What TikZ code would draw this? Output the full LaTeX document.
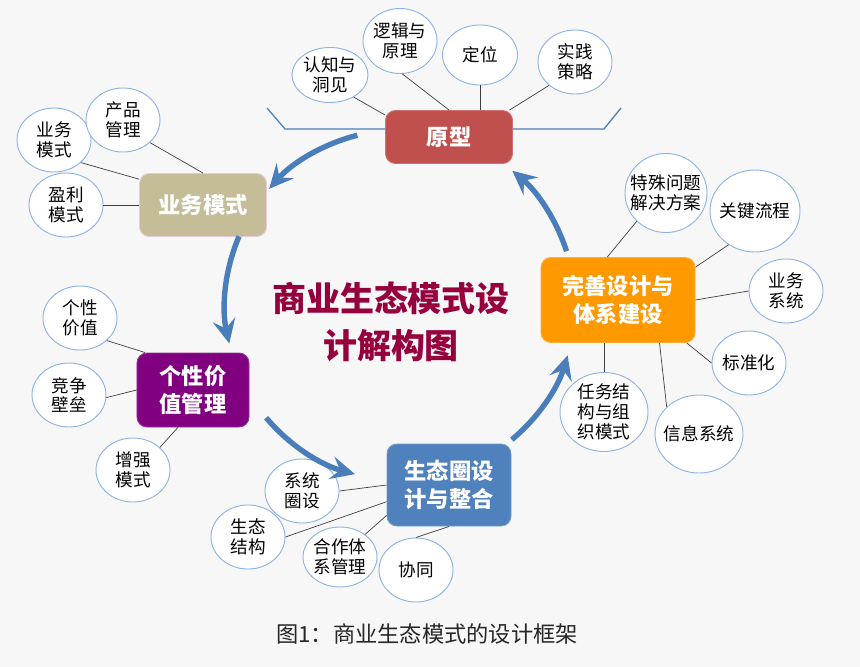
\documentclass[tikz,border=0pt]{standalone}
\usepackage{fontspec}
\setmainfont{Noto Sans CJK SC}
\usetikzlibrary{shapes.geometric, arrows.meta}
\definecolor{ProtoRed}{RGB}{192,80,77}
\definecolor{BizKhaki}{RGB}{196,189,151}
\definecolor{BizPink}{RGB}{228,200,220}
\definecolor{ValPurple}{RGB}{128,0,128}
\definecolor{EcoBlue}{RGB}{79,129,189}
\definecolor{SysOrange}{RGB}{255,153,0}
\definecolor{FlowBlue}{RGB}{74,126,187}
\definecolor{LeafBlue}{RGB}{141,180,226}
\definecolor{TitleRed}{RGB}{150,0,60}
\definecolor{PageGray}{RGB}{247,247,247}

\begin{document}
\begin{tikzpicture}[x=0.03cm, y=-0.03cm,
  hub/.style={draw, rounded corners=0.3cm, text=white, align=center,
              font=\fontsize{19}{24}\selectfont\bfseries, line width=0.8pt},
  leaf/.style={ellipse, draw=LeafBlue, fill=white, line width=0.8pt, inner sep=-12pt,
               minimum width=2.22cm, minimum height=1.92cm, align=center,
               font=\fontsize{15}{17}\selectfont},
  link/.style={draw=black!75, line width=0.6pt},
  flow/.style={draw=FlowBlue, line width=4.6pt,
               -{Stealth[length=0.72cm, width=0.68cm, inset=0.26cm]}},
  brace/.style={draw=FlowBlue, line width=1.1pt},
]
\fill[PageGray] (0,0) rectangle (860,667);
%% Hubs
\node[hub, fill=ProtoRed, draw=ProtoRed!80!white, minimum width=3.81cm, minimum height=1.59cm] (proto) at (449,137) {原型};
\node[hub, fill=BizKhaki, draw=BizPink, minimum width=3.81cm, minimum height=1.89cm] (bm) at (203,205) {业务模式};
\node[hub, fill=ValPurple, draw=ValPurple!80!white, minimum width=3.36cm, minimum height=2.22cm] (gx) at (193,390) {个性价\\值管理};
\node[hub, fill=EcoBlue, draw=EcoBlue!80!white, minimum width=3.72cm, minimum height=2.46cm] (stq) at (449,485) {生态圈设\\计与整合};
\node[hub, fill=SysOrange, draw=SysOrange!80!white, minimum width=4.62cm, minimum height=2.55cm] (ws) at (618,300) {完善设计与\\体系建设};
%% Title and caption
\node[font=\fontsize{29}{40}\selectfont\bfseries, text=TitleRed, align=center] (title) at (391,322) {商业生态模式设\\计解构图};
\node[font=\fontsize{19}{22}\selectfont, text=black!85] (caption) at (427,634) {图1：商业生态模式的设计框架};
%% Bracket round the prototype
\draw[brace] ([yshift=0.24cm]proto.west) -- ++(-100,0) -- ++(-18,-21);
\draw[brace] ([yshift=0.24cm]proto.east) -- ++(91,0) -- ++(17,-21);
%% Leaves of the prototype
\node[leaf, minimum width=2.28cm, minimum height=1.65cm] (rzdj) at (330,75) {认知与\\洞见};
\node[leaf, minimum height=1.95cm] (ljyl) at (400,41) {逻辑与\\原理};
\node[leaf, minimum width=2.25cm, minimum height=1.8cm] (dw) at (480,55) {定位};
\node[leaf] (sjcl) at (575,62) {实践\\策略};
\draw[link] (rzdj.-43) -- (proto.161);
\draw[link] (ljyl.-86) -- (proto.north);
\draw[link] (dw.south) -- (dw.south |- proto.north);
\draw[link] (sjcl.-138) -- (proto.24);
%% Leaves of the business model
\node[leaf] (ywms) at (54,140) {业务\\模式};
\node[leaf] (cpgl) at (123,120) {产品\\管理};
\node[leaf] (ylms) at (66,205) {盈利\\模式};
\draw[link] (cpgl.-40) -- (bm.north);
\draw[link] (ywms.-40) -- (bm.158);
\draw[link] (ylms.east) -- (bm.west);
%% Leaves of the value management
\node[leaf] (gxjz) at (80,318) {个性\\价值};
\node[leaf] (jzbl) at (69,395) {竞争\\壁垒};
\node[leaf] (zqms) at (133,470) {增强\\模式};
\draw[link] (gxjz.-40) -- (gx.142);
\draw[link] (jzbl.-4) -- (gx.west);
\draw[link] (zqms.40) -- (gx.-112);
%% Leaves of the ecosystem
\node[leaf] (xtqs) at (302,491) {系统\\圈设};
\node[leaf] (stjg) at (248,537) {生态\\结构};
\node[leaf, minimum height=1.8cm] (hztx) at (340,557) {合作体\\系管理};
\node[leaf] (xtong) at (416,570) {协同};
\draw[link] (xtqs.east) -- (stq.west);
\draw[link] (stjg.east) -- (stq.-165);
\draw[link] (hztx.42) -- (stq.-154);
\draw[link] (xtong.north) -- (stq.south);
%% Leaves of the system building
\node[leaf, minimum width=2.46cm, minimum height=2.37cm] (tswt) at (666,193) {特殊问题\\解决方案};
\node[leaf, minimum width=2.7cm, minimum height=2.46cm] (gjlc) at (755,211) {关键流程};
\node[leaf] (ywxt) at (786,291) {业务\\系统};
\node[leaf] (bzh) at (749,363) {标准化};
\node[leaf, minimum width=2.64cm, minimum height=2.34cm] (xxxt) at (699,434) {信息系统};
\node[leaf, minimum width=2.64cm, minimum height=2.37cm] (rwjg) at (604,412) {任务结\\构与组\\织模式};
\draw[link] (tswt.-136) -- (ws.104);
\draw[link] (gjlc.-128) -- (ws.23);
\draw[link] (ywxt.west) -- (ws.east);
\draw[link] (bzh.west) -- (ws.-32);
\draw[link] (xxxt.140) -- (ws.-46);
\draw[link] (rwjg.north) -- (rwjg.north |- ws.south);
%% Cycle arrows
\coordinate (ring) at (400,305);
\draw[flow] ([shift={(104.1:5.25cm)}]ring) arc[start angle=104.1, end angle=138.4, radius=5.25cm];
\draw[flow] ([shift={(156.9:5.25cm)}]ring) arc[start angle=156.9, end angle=192.7, radius=5.25cm];
\draw[flow] ([shift={(220.1:5.25cm)}]ring) arc[start angle=220.1, end angle=255.1, radius=5.25cm];
\draw[flow] ([shift={(309.7:5.25cm)}]ring) arc[start angle=309.7, end angle=343.3, radius=5.25cm];
\draw[flow] ([shift={(17.9:5.25cm)}]ring) arc[start angle=17.9, end angle=50.1, radius=5.25cm];
\end{tikzpicture}
\end{document}
